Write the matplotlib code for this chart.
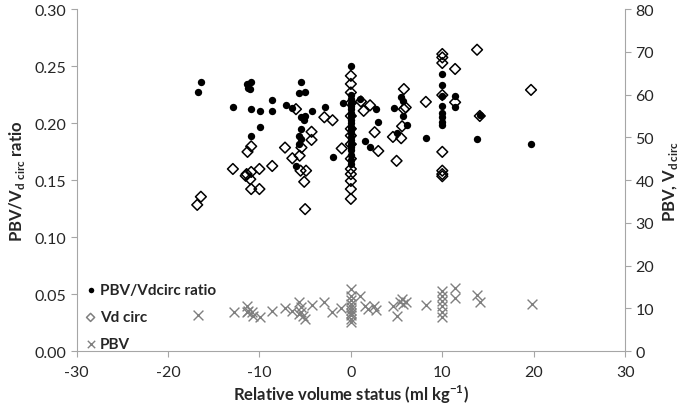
import matplotlib.pyplot as plt
import matplotlib.ticker as mticker

plt.rcParams['font.family'] = ['Lato', 'DejaVu Sans']
plt.rcParams['mathtext.fontset'] = 'custom'
plt.rcParams['mathtext.bf'] = 'Lato:bold'
plt.rcParams['mathtext.rm'] = 'Lato'
plt.rcParams['axes.unicode_minus'] = False

# PBV/Vdcirc ratio (left axis)
ratio_x = [-16.4, -16.7, -11.4, -10.9, -11.2, -11.0, -12.9, -10.9, -9.9, -8.6,
           -8.6, -7.1, -6.4, -9.9, -10.9, -5.4, -5.7, -5.0, -4.3, -5.4,
           -5.1, -5.0, -2.8, -0.9, -5.4, -5.7, -5.4, -5.7, -2.0, -6.0,
           0, 0, 0, 0, 0, 0, 0, 0, 0, 0, 0, 0, 0, 0, 0, 0, 0, 0, 0, 0, 0,
           1.0, 1.5, 2.1, 2.7, 3.0, 4.7, 5.5, 5.7, 5.7, 6.1, 5.1, 8.2,
           10, 10, 10, 10, 10, 10, 10, 10, 11.4, 11.4, 13.8, 14.1, 19.7]
ratio_y = [0.236, 0.227, 0.234, 0.236, 0.231, 0.230, 0.214, 0.212, 0.211, 0.220,
           0.211, 0.216, 0.213, 0.197, 0.189, 0.236, 0.226, 0.227, 0.211, 0.205,
           0.203, 0.206, 0.214, 0.218, 0.195, 0.189, 0.186, 0.182, 0.170, 0.162,
           0.250, 0.225, 0.221, 0.218, 0.215, 0.212, 0.209, 0.206, 0.203, 0.200,
           0.197, 0.194, 0.191, 0.188, 0.185, 0.182, 0.179, 0.176, 0.172, 0.168, 0.164,
           0.221, 0.184, 0.179, 0.212, 0.201, 0.213, 0.223, 0.219, 0.206, 0.198, 0.191, 0.187,
           0.243, 0.233, 0.224, 0.215, 0.209, 0.205, 0.201, 0.198, 0.224, 0.214, 0.186, 0.207, 0.182]

# Vd circ (right axis)
vd_x = [-10.9, -11.3, -7.2, -6.4, -12.9, -11.4, -11.5, -10.9, -11.0, -10.0,
        -10.9, -10.0, -16.4, -16.8, -8.6, -6.0, -2.9, -2.0, -4.3, -4.3,
        -5.4, -5.6, -5.5, -4.9, -5.1, -5.0, -1.0,
        0, 0, 0, 0, 0, 0, 0, 0, 0, 0, 0, 0, 0, 0,
        1.1, 1.4, 2.1, 2.6, 3.0, 5.8, 5.8, 6.0, 5.6, 4.6, 5.5, 5.0, 8.2,
        10, 10, 10, 10, 10, 10, 10, 10,
        11.4, 11.4, 13.8, 19.7, 14.1]
vd_y = [47.9, 46.6, 47.6, 45.1, 42.6, 41.4, 41.0, 41.9, 40.2, 42.6,
        37.9, 37.9, 36.1, 34.2, 43.3, 56.6, 54.7, 54.0, 51.3, 49.4,
        47.6, 45.7, 42.2, 42.2, 39.6, 33.2, 47.4,
        64.4, 62.5, 60.5, 58.0, 55.0, 52.0, 50.4, 48.4, 45.0, 42.6, 41.4, 39.8, 37.9, 35.6,
        58.4, 56.2, 57.5, 51.2, 46.8, 61.3, 56.6, 57.0, 52.6, 50.1, 49.8, 44.5, 58.3,
        69.5, 68.7, 67.4, 59.9, 46.6, 42.2, 41.4, 40.9,
        66.0, 58.2, 70.5, 61.1, 55.0]

# PBV (right axis)
pbv_x = [-16.7, -12.8, -11.4, -11.2, -10.8, -10.7, -11.4, -9.9, -8.6, -7.2,
         -6.4, -5.7, -5.5, -5.4, -5.2, -5.0, -5.7, -4.3, -2.9, -2.1, -1.1,
         0, 0, 0, 0, 0, 0, 0, 0, 0, 0,
         1.0, 1.6, 1.9, 2.5, 2.8, 4.6, 5.1, 5.6, 5.7, 6.0, 5.4, 8.2,
         10, 10, 10, 10, 10, 10,
         11.4, 11.4, 13.8, 14.1, 19.8]
pbv_y = [8.4, 9.1, 10.5, 9.4, 9.1, 8.3, 9.2, 7.9, 9.3, 10.0,
         9.4, 11.4, 10.2, 9.1, 8.3, 7.5, 8.7, 10.8, 11.4, 9.1, 10.0,
         14.5, 12.8, 11.9, 11.0, 10.3, 9.6, 9.0, 8.4, 7.5, 6.8,
         12.9, 10.5, 9.8, 10.6, 9.7, 10.6, 8.3, 12.2, 11.0, 11.5, 11.4, 10.8,
         14.1, 12.9, 11.8, 10.6, 9.1, 7.9,
         14.7, 12.3, 13.1, 11.4, 11.0]

spine_col = '#a6a6a6'
txt_col = '#262626'

fig = plt.figure(figsize=(6.85, 4.06), dpi=100)
ax = fig.add_axes([0.1117, 0.133, 0.801, 0.842])
ax2 = ax.twinx()

ax2.scatter(vd_x, vd_y, marker='D', s=30, facecolors='none', edgecolors='black',
            linewidths=1.1, label='Vd circ', zorder=2)
ax2.scatter(pbv_x, pbv_y, marker='x', s=50, color='#7f7f7f', linewidths=1.0,
            label='PBV', zorder=3)
h1 = ax.scatter(ratio_x, ratio_y, marker='o', s=28, color='black', linewidths=0,
                label='PBV/Vdcirc ratio', zorder=4)
ax.set_zorder(ax2.get_zorder() + 1)
ax.patch.set_visible(False)

ax.set_xlim(-30, 30)
ax.set_ylim(0, 0.30)
ax2.set_ylim(0, 80)
ax.set_xticks([-30, -20, -10, 0, 10, 20, 30])
ax.set_yticks([0, 0.05, 0.10, 0.15, 0.20, 0.25, 0.30])
ax.yaxis.set_major_formatter(mticker.FormatStrFormatter('%.2f'))
ax2.set_yticks(range(0, 81, 10))

for a in (ax, ax2):
    a.spines['top'].set_visible(False)
    for s in ('left', 'right', 'bottom'):
        a.spines[s].set_color(spine_col)
    a.tick_params(colors=spine_col, labelcolor=txt_col, labelsize=11.5,
                  length=4, direction='out')
ax.spines['right'].set_visible(False)
ax2.spines['left'].set_visible(False)
ax2.spines['bottom'].set_visible(False)
ax.tick_params(axis='x', pad=6)

ax.set_xlabel(r'Relative volume status (ml kg$^{\mathbf{-1}}$)', fontsize=12,
              fontweight='bold', color=txt_col, labelpad=3)
ax.set_ylabel(r'PBV/V$_{\mathbf{d\ circ}}$ ratio', fontsize=12,
              fontweight='bold', color=txt_col, labelpad=5)
ax2.set_ylabel(r'PBV, V$_{\mathbf{d\,circ}}$', fontsize=12,
               fontweight='bold', color=txt_col, labelpad=5)

handles = [h1] + ax2.get_legend_handles_labels()[0]
labels = ['PBV/Vdcirc ratio', 'Vd circ', 'PBV']
leg = ax.legend(handles, labels, loc='lower left', bbox_to_anchor=(-0.005, -0.028),
                frameon=False, handletextpad=0.1, handlelength=1.0,
                labelspacing=0.85, prop={'weight': 'bold', 'size': 11},
                markerscale=0.75, borderaxespad=0.2)
leg.legend_handles[1].set_edgecolor('#7f7f7f')
for t in leg.get_texts():
    t.set_color(txt_col)

fig.savefig('out.png', dpi=100)
